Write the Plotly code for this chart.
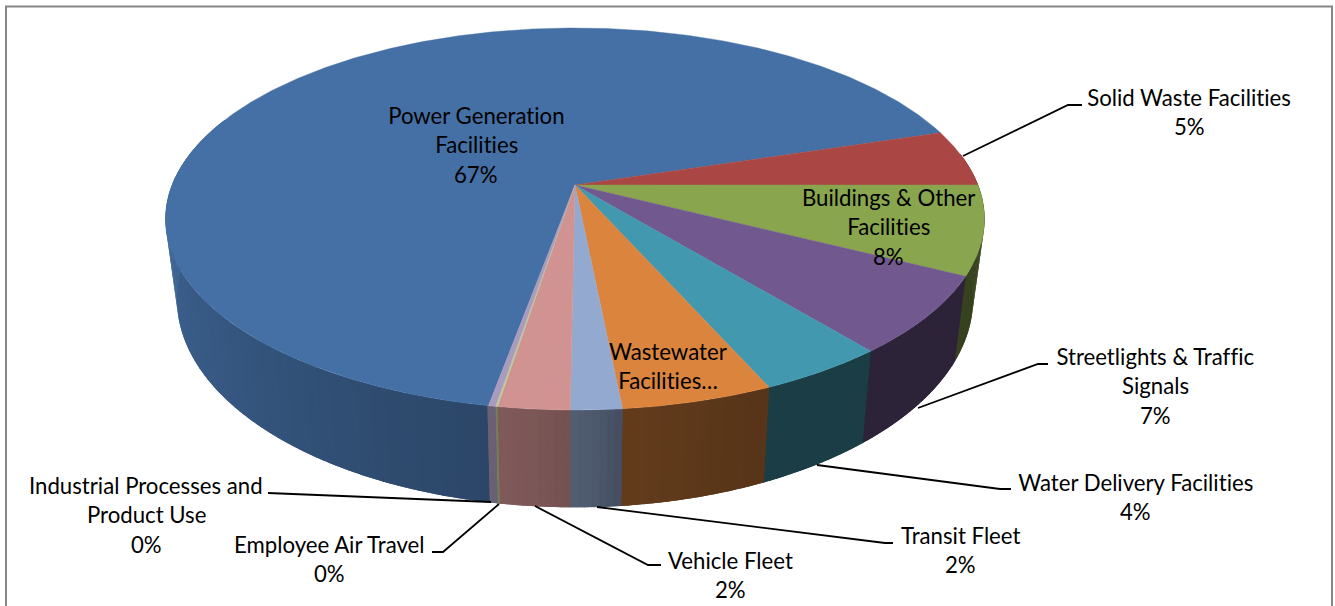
import numpy as np
import plotly.graph_objects as go

# ---- data ----
categories = ["Power Generation Facilities", "Solid Waste Facilities", "Buildings & Other Facilities",
              "Streetlights & Traffic Signals", "Water Delivery Facilities", "Wastewater Facilities",
              "Transit Fleet", "Vehicle Fleet", "Employee Air Travel", "Industrial Processes and Product Use"]
values = [67.36, 4.8, 7.5, 6.6, 4.3, 5.06, 1.7, 2.38, 0.07, 0.23]
colors = ["#4570A5", "#AA4643", "#89A54E", "#71588F", "#4198AF", "#DB843D", "#93A9CF", "#D19392", "#B9CD96", "#A99BBD"]
label_lines = [["Power Generation", "Facilities"], ["Solid Waste Facilities"], ["Buildings & Other", "Facilities"],
               ["Streetlights & Traffic", "Signals"], ["Water Delivery Facilities"], ["Wastewater", "Facilities…"],
               ["Transit Fleet"], ["Vehicle Fleet"], ["Employee Air Travel"], ["Industrial Processes and", "Product Use"]]
show_pct = [True, True, True, True, True, False, True, True, True, True]

# ---- layout / style ----
W, H = 1335, 606
FONT = "Lato"
FS = 22.2
LINE_H = 29.4
label_pos = [(476, 115.5), (1189, 97.5), (888, 197.5), (1155, 356.5), (1135, 482.5), (668, 351.5),
             (960, 535.5), (730, 560.5), (329, 544.5), (146, 485.5)]
leaders = [
    [(963, 156), (1068, 105), (1082, 105)],
    [(918, 408), (1038, 364), (1048, 364)],
    [(817, 465), (1000, 489), (1011, 489)],
    [(597, 507), (885, 543), (893, 543)],
    [(535, 506), (648, 565), (661, 565)],
    [(499, 504), (443, 552), (432, 552)],
    [(491, 502), (285, 493), (268, 493)],
]
CX, CY, RX, RY, K = 575, 185, 403, 185, 0.178
END_OF_FIRST = 72.7
BOT_SX, BOT_Y0, BOT_SY = 0.972, 262, 1.09
shade_ang = [60, 158, 174, 178, 185, 191.5, 270, 300]
shade_val = [0.40, 0.40, 0.45, 0.53, 0.59, 0.63, 0.92, 0.92]
OVERLAP = 0.12
WALL_FROM, WALL_TO = 80, 292


def top(a):
    t = np.radians(a)
    u, v = np.sin(t), -np.cos(t)
    d = 1 - K * v
    return CX + RX * u / d, CY + RY * v / d


def bottom(a):
    x, y = top(a)
    return CX + BOT_SX * (x - CX), BOT_Y0 + BOT_SY * (y - CY)


def shaded(hex_c, f):
    r, g, b = [int(hex_c[i:i + 2], 16) for i in (1, 3, 5)]
    return f"rgb({r * f:.0f},{g * f:.0f},{b * f:.0f})"


fig = go.Figure()
spans = np.array(values) * 3.6
start = END_OF_FIRST - spans[0]
edges = start + np.concatenate([[0], np.cumsum(spans)])

# side wall: a flat base per slice, then thin strips that carry the shading
for i, col in enumerate(colors):
    a0, a1 = edges[i], edges[i + 1]
    a0n, a1n = a0 % 360, a0 % 360 + (a1 - a0)
    lo, hi = max(a0n, WALL_FROM), min(a1n, WALL_TO)
    if hi > lo:
        arc = np.linspace(lo, hi + OVERLAP, max(3, int(hi - lo) * 2))
        tx, ty = top(arc)
        bx, by = bottom(arc)
        c = shaded(col, float(np.interp((lo + hi) / 2, shade_ang, shade_val)))
        fig.add_trace(go.Scatter(x=np.r_[tx, bx[::-1], tx[0]], y=np.r_[ty, by[::-1], ty[0]], mode="none",
                                 fill="toself", fillcolor=c, hoverinfo="skip", showlegend=False))
    n = max(1, int(np.ceil((a1 - a0) / 1.0)))
    grid = np.linspace(a0n, a1n, n + 1)
    for s, e in zip(grid[:-1], grid[1:]):
        mid = (s + e) / 2 % 360
        if not WALL_FROM <= mid <= WALL_TO:
            continue
        e2 = e + OVERLAP
        xt0, yt0 = top(s); xt1, yt1 = top(e2)
        xb0, yb0 = bottom(s); xb1, yb1 = bottom(e2)
        c = shaded(col, float(np.interp(mid, shade_ang, shade_val)))
        fig.add_trace(go.Scatter(x=[xt0, xt1, xb1, xb0, xt0], y=[yt0, yt1, yb1, yb0, yt0], mode="none",
                                 fill="toself", fillcolor=c, hoverinfo="skip", showlegend=False))

# top face of every slice
for i, col in enumerate(colors):
    arc = np.linspace(edges[i], edges[i + 1], max(3, int(spans[i] * 2)))
    ax, ay = top(arc)
    fig.add_trace(go.Scatter(x=np.r_[CX, ax, CX], y=np.r_[CY, ay, CY], mode="lines", fill="toself",
                             fillcolor=col, line=dict(color=col, width=0.4), name=categories[i],
                             hoverinfo="name", showlegend=False))

# leader lines
for pts in leaders:
    fig.add_trace(go.Scatter(x=[p[0] for p in pts], y=[p[1] for p in pts], mode="lines",
                             line=dict(color="black", width=1.8), hoverinfo="skip", showlegend=False))

# labels
annots = []
for lines, (lx, ly), v, sp in zip(label_lines, label_pos, values, show_pct):
    texts = list(lines) + ([f"{round(v):d}%"] if sp else [])
    for j, t in enumerate(texts):
        annots.append(dict(x=lx, y=ly + j * LINE_H, text=t, showarrow=False, xanchor="center", yanchor="middle",
                           font=dict(family=FONT, size=FS, color="black")))

frame = dict(type="path", path="M 6 610 L 6 6.5 L 1332 6.5 L 1332 610", line=dict(color="#868686", width=2))

fig.update_layout(width=W, height=H, margin=dict(l=0, r=0, t=0, b=0), autosize=False,
                  paper_bgcolor="white", plot_bgcolor="white", showlegend=False,
                  xaxis=dict(range=[0, W], visible=False, fixedrange=True),
                  yaxis=dict(range=[H, 0], visible=False, fixedrange=True),
                  annotations=annots, shapes=[frame])
fig.write_html("out.html", config={"displayModeBar": False},
               post_script="document.body.style.margin='0';document.body.style.overflow='hidden';"
                           "var s=document.createElement('style');"
                           "s.textContent='svg text{font-variant-ligatures:none;font-feature-settings:\"liga\" 0;}';"
                           "document.head.appendChild(s);")
